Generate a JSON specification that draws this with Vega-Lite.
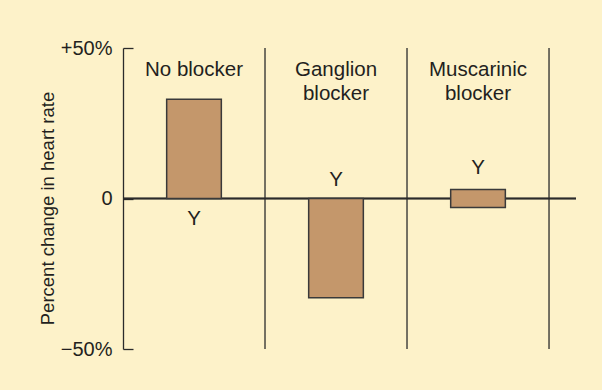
{
  "$schema": "https://vega.github.io/schema/vega-lite/v6.json",
  "width": 453,
  "height": 301,
  "autosize": "none",
  "padding": {"left": 123, "top": 48, "right": 26, "bottom": 41},
  "background": "#fdf2c9",
  "config": {"view": {"stroke": null}, "font": "Liberation Sans"},
  "data": {
    "values": [
      {"condition": "No blocker", "start": 0, "end": 33, "y_mark": -6.7},
      {"condition": "Ganglion blocker", "start": 0, "end": -33, "y_mark": 6},
      {"condition": "Muscarinic blocker", "start": -3, "end": 3, "y_mark": 10}
    ]
  },
  "layer": [
    {
      "mark": {"type": "rule", "color": "#2b2b2b", "strokeWidth": 1.3},
      "encoding": {"y": {"datum": 0, "type": "quantitative"}}
    },
    {
      "mark": {"type": "bar", "width": {"band": 0.385}, "fill": "#c4976b", "stroke": "#3a3a3a", "strokeWidth": 1.5, "opacity": 1},
      "encoding": {
        "x": {
          "field": "condition",
          "type": "nominal",
          "sort": null,
          "scale": {"paddingInner": 0, "paddingOuter": 0.095, "align": 0},
          "axis": {
            "orient": "top",
            "title": null,
            "domain": false,
            "ticks": false,
            "labelAngle": 0,
            "labelPadding": -11,
            "labelBaseline": "top",
            "labelFontSize": 20.5,
            "labelColor": "#231f20",
            "labelLineHeight": 24,
            "labelFont": "Liberation Sans",
            "labelExpr": "datum.label == 'No blocker' ? datum.label : split(datum.label, ' ')"
          }
        },
        "y": {
          "field": "start",
          "type": "quantitative",
          "scale": {"domain": [-50, 50], "nice": false},
          "axis": {
            "title": "Percent change in heart rate",
            "values": [-50, 0, 50],
            "labelExpr": "datum.value > 0 ? '+50%' : (datum.value < 0 ? '−50%' : '0')",
            "grid": false,
            "tickSize": -10,
            "labelPadding": 21,
            "domainColor": "#2b2b2b",
            "tickColor": "#2b2b2b",
            "domainWidth": 1.3,
            "tickWidth": 1.3,
            "labelFontSize": 20,
            "labelColor": "#231f20",
            "labelFont": "Liberation Sans",
            "titleFont": "Liberation Sans",
            "titleFontSize": 18.5,
            "titleFontWeight": "normal",
            "titleColor": "#231f20",
            "titleBaseline": "alphabetic",
            "titleX": -70,
            "titleY": 160
          }
        },
        "y2": {"field": "end"}
      }
    },
    {
      "mark": {"type": "rule", "color": "#2b2b2b", "strokeWidth": 1.3},
      "encoding": {
        "x": {"field": "condition", "type": "nominal", "sort": null, "bandPosition": 1}
      }
    },
    {
      "mark": {"type": "text", "fontSize": 20.5, "color": "#231f20", "baseline": "middle", "font": "Liberation Sans"},
      "encoding": {
        "x": {"field": "condition", "type": "nominal", "sort": null},
        "y": {"field": "y_mark", "type": "quantitative"},
        "text": {"value": "Y"}
      }
    }
  ]
}
